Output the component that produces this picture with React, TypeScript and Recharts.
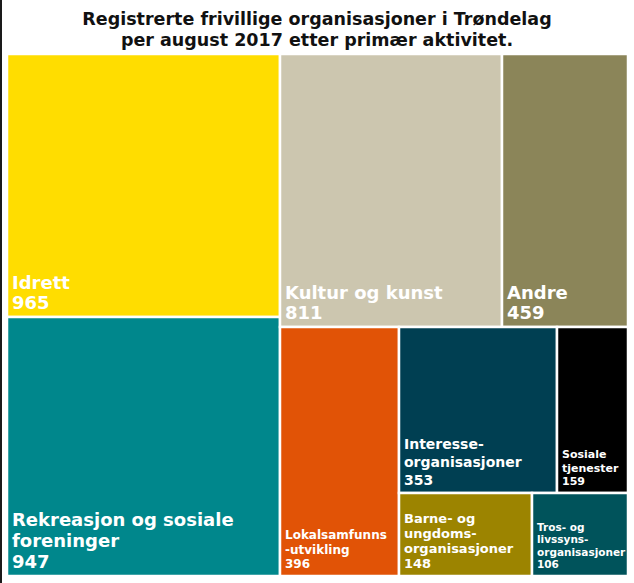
import React from 'react';
import { Treemap } from 'recharts';

// Registrerte frivillige organisasjoner i Trøndelag, august 2017
const categories = [
  'Idrett',
  'Rekreasjon og sosiale\nforeninger',
  'Kultur og kunst',
  'Andre',
  'Lokalsamfunns\n-utvikling',
  'Interesse-\norganisasjoner',
  'Sosiale\ntjenester',
  'Barne- og\nungdoms-\norganisasjoner',
  'Tros- og\nlivssyns-\norganisasjoner',
];
const counts = [965, 947, 811, 459, 396, 353, 159, 148, 106];
const titleLines = [
  'Registrerte frivillige organisasjoner i Trøndelag',
  'per august 2017 etter primær aktivitet.',
];

// look of each tile (same order as categories)
const colors = ['#ffdd00', '#00878c', '#ccc6af', '#8b8559', '#e15306', '#003f52', '#000000', '#9c8400', '#00535b'];
const fontSizes = [18, 18, 18, 18, 12, 14, 11, 13, 10.5];
const lineHeights = [20, 21, 20, 20, 14.5, 18, 13.5, 15, 12.5];

const FONT = '"DejaVu Sans", Verdana, sans-serif';

const leaf = (i: number) => ({ name: categories[i], value: counts[i], idx: i });

// grouping so the layout splits the same way as the original
const treeData = [
  { name: 'a', children: [leaf(0), leaf(1)] },
  {
    name: 'b',
    children: [
      { name: 'c', children: [leaf(2), leaf(3)] },
      {
        name: 'd',
        children: [
          leaf(4),
          {
            name: 'e',
            children: [
              { name: 'f', children: [leaf(5), leaf(6)] },
              { name: 'g', children: [leaf(7), leaf(8)] },
            ],
          },
        ],
      },
    ],
  },
];

const Tile = (props: any) => {
  const { x, y, width, height, children, idx, name, value } = props;
  if (children && children.length) return <g />;
  if (idx === undefined) return <g />;
  const fs = fontSizes[idx];
  const lh = lineHeights[idx];
  const lines = [...String(name).split('\n'), String(value)];
  const bottom = y + height - 8;
  return (
    <g>
      <rect x={x} y={y} width={width} height={height} fill={colors[idx]} stroke="#fff" strokeWidth={2.5} />
      {lines.map((t, i) => (
        <text
          key={i}
          x={x + 5}
          y={bottom - (lines.length - 1 - i) * lh}
          fill="#fff"
          fontSize={fs}
          fontWeight="bold"
          fontFamily={FONT}
        >
          {t}
        </text>
      ))}
    </g>
  );
};

export default function App() {
  return (
    <div
      style={{
        position: 'absolute',
        left: 0,
        top: 0,
        width: 634,
        height: 583,
        background: '#fff',
        borderLeft: '2px solid #1a1a1a',
        boxSizing: 'border-box',
      }}
    >
      <svg width={632} height={54} style={{ position: 'absolute', left: -2, top: 0 }}>
        {titleLines.map((t, i) => (
          <text
            key={i}
            x={317}
            y={25 + i * 21}
            textAnchor="middle"
            fontSize={17.5}
            fontWeight="bold"
            fontFamily={FONT}
            fill="#111"
          >
            {t}
          </text>
        ))}
      </svg>
      <div style={{ position: 'absolute', left: 5, top: 54 }}>
        <Treemap
          width={621}
          height={522}
          data={treeData}
          dataKey="value"
          aspectRatio={1}
          isAnimationActive={false}
          content={<Tile />}
        />
      </div>
    </div>
  );
}
